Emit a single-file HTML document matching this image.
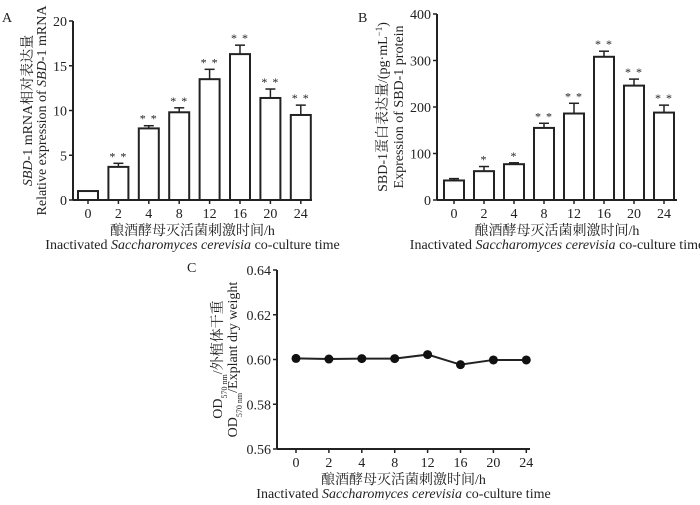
<!DOCTYPE html>
<html><head><meta charset="utf-8"><style>
body{margin:0;background:#fff}
svg text{font-family:"Liberation Serif","Noto Serif CJK SC",serif;fill:#222}
</style></head><body>
<svg id="svg" width="700" height="500" xmlns="http://www.w3.org/2000/svg"></svg>
<script>
const catsA=["0","2","4","8","12","16","20","24"];
const valsA=[1.0,3.7,8.0,9.8,13.5,16.3,11.4,9.5];
const errA=[0,0.4,0.3,0.5,1.1,1.0,1.0,1.1];
const sigA=["","**","**","**","**","**","**","**"];
const ticksA=[0,5,10,15,20];
const catsB=["0","2","4","8","12","16","20","24"];
const valsB=[42,62,77,155,186,308,246,188];
const errB=[4,10,3,10,22,12,14,16];
const sigB=["","*","*","**","**","**","**","**"];
const ticksB=[0,100,200,300,400];
const catsC=["0","2","4","8","12","16","20","24"];
const valsC=[0.6005,0.6002,0.6004,0.6004,0.6022,0.5977,0.5998,0.5998];
const ticksC=[0.56,0.58,0.60,0.62,0.64];
const NS="http://www.w3.org/2000/svg";
const svg=document.getElementById('svg');
function mk(t,a,txt,p){const e=document.createElementNS(NS,t);for(const k in a)e.setAttribute(k,a[k]);if(txt!=null)e.innerHTML=txt;(p||svg).appendChild(e);return e;}
function panel(cfg){
 const g=mk('g',{});
 const y=v=>cfg.y0+(v-cfg.min)/(cfg.max-cfg.min)*(cfg.y1-cfg.y0);
 const x=i=>cfg.c0+i*cfg.step;
 let a=mk('line',{x1:cfg.ax,y1:cfg.y1,x2:cfg.ax,y2:cfg.y0,stroke:'#222','stroke-width':2},null,g);
 
 a=mk('line',{x1:cfg.ax,y1:cfg.y0,x2:cfg.axEnd,y2:cfg.y0,stroke:'#222','stroke-width':2},null,g);
 
 cfg.ticks.forEach(t=>{const yy=y(t);mk('line',{x1:cfg.ax-4,y1:yy,x2:cfg.ax,y2:yy,stroke:'#222','stroke-width':1.5},null,g);
  const tl=mk('text',{x:cfg.ax-6,y:yy+5,'text-anchor':'end','font-size':14},cfg.fmt(t),g);
  });
 cfg.cats.forEach((c,i)=>{mk('line',{x1:x(i),y1:cfg.y0,x2:x(i),y2:cfg.y0+4,stroke:'#222','stroke-width':1.5},null,g);
  const tl=mk('text',{x:x(i),y:cfg.y0+18,'text-anchor':'middle','font-size':14},c,g);
  });
 if(cfg.bars){cfg.vals.forEach((v,i)=>{const top=y(v+cfg.err[i]);
   if(cfg.err[i]>0){mk('line',{x1:x(i),y1:y(v),x2:x(i),y2:top,stroke:'#222','stroke-width':1.5},null,g);
    mk('line',{x1:x(i)-5,y1:top,x2:x(i)+5,y2:top,stroke:'#222','stroke-width':1.5},null,g);}
   const r=mk('rect',{x:x(i)-10,y:y(v),width:20,height:cfg.y0-y(v),fill:'#fff',stroke:'#222','stroke-width':2},null,g);
   
   if(cfg.sig[i]){const s=mk('text',{x:x(i),y:top-3,'text-anchor':'middle','font-size':12,'letter-spacing':'1'},cfg.sig[i].split('').join(' '),g);
    }
 });}
 else{const p=mk('polyline',{points:cfg.vals.map((v,i)=>x(i)+','+y(v)).join(' '),fill:'none',stroke:'#222','stroke-width':2},null,g);
  
  cfg.vals.forEach((v,i)=>{const c=mk('circle',{cx:x(i),cy:y(v),r:4.5,fill:'#111'},null,g);
   });}
 const mid=(cfg.ax+cfg.axEnd)/2;
 let t=mk('text',{x:mid,y:cfg.y0+35,'text-anchor':'middle','font-size':14},'酿酒酵母灭活菌刺激时间/h',g);
 
 t=mk('text',{x:mid,y:cfg.y0+49,'text-anchor':'middle','font-size':14},'Inactivated <tspan font-style="italic">Saccharomyces cerevisia</tspan> co-culture time',g);
 
 const ym=(cfg.y0+cfg.y1)/2;
 t=mk('text',{x:cfg.t1,y:ym,'text-anchor':'middle','font-size':14,transform:`rotate(-90 ${cfg.t1} ${ym})`},cfg.title1,g);
 
 t=mk('text',{x:cfg.t2,y:ym,'text-anchor':'middle','font-size':14,transform:`rotate(-90 ${cfg.t2} ${ym})`},cfg.title2,g);
 
 t=mk('text',{x:cfg.lx,y:cfg.ly,'font-size':14},cfg.label,g);
 
}
panel({name:'panel-a',bars:true,cats:catsA,vals:valsA,err:errA,sig:sigA,ticks:ticksA,min:0,max:20,y0:200,y1:21,ax:73,axEnd:312,c0:88,step:30.4,fmt:t=>String(t),
 title1:'<tspan font-style="italic">SBD</tspan>-1 mRNA相对表达量',title2:'Relative expression of <tspan font-style="italic">SBD</tspan>-1 mRNA',t1:32,t2:46,label:'A',lx:2,ly:22});
panel({name:'panel-b',bars:true,cats:catsB,vals:valsB,err:errB,sig:sigB,ticks:ticksB,min:0,max:400,y0:200,y1:14,ax:437,axEnd:677,c0:454,step:30,fmt:t=>String(t),
 title1:'SBD-1蛋白表达量/(pg·mL<tspan baseline-shift="super" font-size="9">−1</tspan>)',title2:'Expression of SBD-1 protein',t1:387,t2:403,label:'B',lx:358,ly:22});
panel({name:'panel-c',bars:false,cats:catsC,vals:valsC,ticks:ticksC,min:0.56,max:0.64,y0:449,y1:270,ax:277,axEnd:530,c0:296,step:32.9,fmt:t=>t.toFixed(2),
 title1:'OD<tspan baseline-shift="sub" font-size="8">570 nm</tspan>/外植体干重',title2:'OD<tspan baseline-shift="sub" font-size="8">570 nm</tspan>/Explant dry weight',t1:222,t2:237,label:'C',lx:187,ly:272});
</script>
</body></html>
